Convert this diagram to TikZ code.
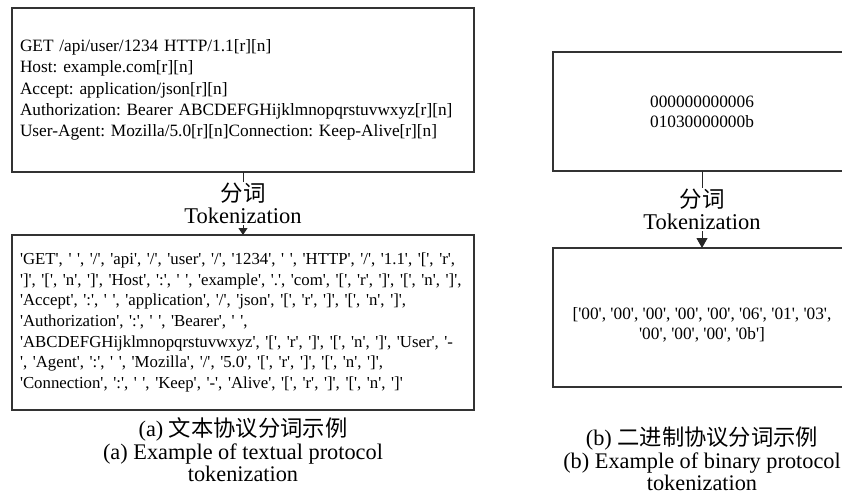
\documentclass[tikz,border=0pt]{standalone}
\usepackage{fontspec}
\setmainfont{Liberation Serif}[Ligatures=TeXOff]
\newfontfamily\cjk{Noto Sans CJK SC}
\usetikzlibrary{arrows.meta}
\frenchspacing
\tikzset{
  box/.style={draw=black!80, line width=1.1pt, inner sep=8pt, outer sep=0pt},
  leftbox/.style={box, text width=446pt, align=left},
  rightbox/.style={box, minimum width=298pt, align=center,
    font=\fontsize{17.3}{20}\selectfont},
  steplabel/.style={fill=white, inner sep=1pt, align=center,
    font=\fontsize{22.5}{21.5}\selectfont},
  caption/.style={align=center, font=\fontsize{22.3}{22.5}\selectfont},
  flow/.style={draw=black!85, line width=1pt},
}
\begin{document}
\begin{tikzpicture}[x=1pt, y=-1pt]
\useasboundingbox (0,0) rectangle (842,499);
\clip (0,0) rectangle (842,499);

% (a) textual protocol
\node[leftbox, minimum height=164pt, anchor=north west,
      font=\fontsize{17.3}{21.3}\selectfont] (rawtext) at (12,8)
  {GET /api/user/1234 HTTP/1.1[r][n]\\
   Host: example.com[r][n]\\
   Accept: application/json[r][n]\\
   Authorization: Bearer ABCDEFGHijklmnopqrstuvwxyz[r][n]\\
   User-Agent: Mozilla/5.0[r][n]Connection: Keep-Alive[r][n]};
\node[leftbox, minimum height=175pt, anchor=north west,
      font=\fontsize{16.8}{20.7}\selectfont] (texttokens) at (12,235)
  {'GET', ' ', '/', 'api', '/', 'user', '/', '1234', ' ', 'HTTP', '/', '1.1', '[', 'r',\\
   ']', '[', 'n', ']', 'Host', ':', ' ', 'example', '.', 'com', '[', 'r', ']', '[', 'n', ']',\\
   'Accept', ':', ' ', 'application', '/', 'json', '[', 'r', ']', '[', 'n', ']',\\
   'Authorization', ':', ' ', 'Bearer', ' ',\\
   'ABCDEFGHijklmnopqrstuvwxyz', '[', 'r', ']', '[', 'n', ']', 'User', '-\\
   ', 'Agent', ':', ' ', 'Mozilla', '/', '5.0', '[', 'r', ']', '[', 'n', ']',\\
   'Connection', ':', ' ', 'Keep', '-', 'Alive', '[', 'r', ']', '[', 'n', ']'};
\draw[flow, -{Triangle[width=9pt, length=7pt]}] (rawtext.south) -- (texttokens.north)
  node[midway, steplabel] (tokA) {{\cjk 分词}\\Tokenization};
\node[caption] (capA) at (243,450)
  {(a) {\cjk 文本协议分词示例}\\(a) Example of textual protocol\\tokenization};

% (b) binary protocol
\node[rightbox, minimum height=119pt, anchor=north west] (rawbin) at (553,52)
  {000000000006\\01030000000b};
\node[rightbox, minimum height=139pt, anchor=north west] (bintokens) at (553,248)
  {\rule{0pt}{26pt}['00', '00', '00', '00', '00', '06', '01', '03',\\'00', '00', '00', '0b']};
\draw[flow, -{Triangle[width=11pt, length=10pt]}] (rawbin.south) -- (bintokens.north)
  node[midway, steplabel] (tokB) {{\cjk 分词}\\Tokenization};
\node[caption] (capB) at (702,459)
  {(b) {\cjk 二进制协议分词示例}\\(b) Example of binary protocol\\tokenization};
\end{tikzpicture}
\end{document}
